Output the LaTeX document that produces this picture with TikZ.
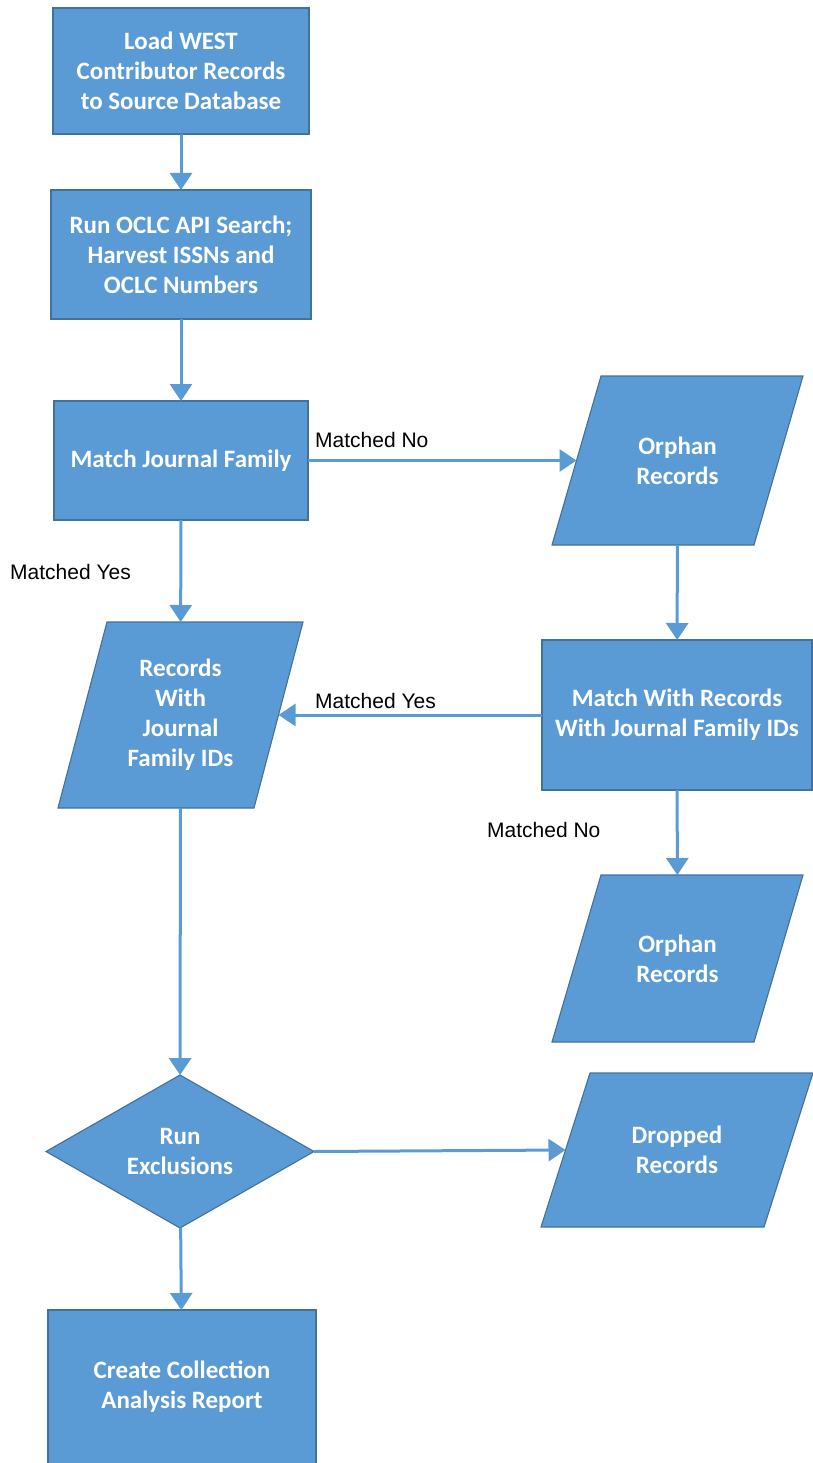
\documentclass[tikz,border=0pt]{standalone}
\usepackage{fontspec}
\setmainfont{Carlito}
\newfontfamily\labfont{Liberation Sans}
\usetikzlibrary{shapes.geometric,arrows.meta}
\definecolor{boxfill}{HTML}{5B9BD5}
\definecolor{boxline}{HTML}{41719C}
\definecolor{arrowc}{HTML}{5B9BD5}
\pgfdeclarelayer{bg}
\pgfsetlayers{bg,main}
\tikzset{
  txt/.style={text=white, font=\fontsize{25}{30}\selectfont\bfseries, align=center, inner sep=2pt, outer sep=0pt},
  shapeline/.style={fill=boxfill, draw=boxline, line width=1.1pt},
  procbox/.style={txt, shapeline, rectangle},
  iobox/.style={txt, rectangle},
  decbox/.style={txt, shapeline, diamond, aspect=1.75, inner sep=0pt},
  flow/.style={draw=arrowc, line width=3pt, -{Triangle[width=22pt,length=17pt]}},
  lab/.style={font=\labfont\fontsize{21}{24}\selectfont, anchor=west, inner sep=0pt, text=black}
}
\newcommand{\parashape}[2]{%
  \begin{pgfonlayer}{bg}
  \draw[shapeline] ([xshift=#2/2]#1.north west) -- ([xshift=#2/2]#1.north east)
    -- ([xshift=-#2/2]#1.south east) -- ([xshift=-#2/2]#1.south west) -- cycle;
  \end{pgfonlayer}}
\begin{document}
\begin{tikzpicture}[x=1pt,y=-1pt]
\useasboundingbox (0,0) rectangle (813,1463);
\clip (0,0) rectangle (813,1463);
\node[procbox, minimum width=256pt, minimum height=126pt] (b1) at (181,71) {Load WEST\\Contributor Records\\to Source Database};
\node[procbox, minimum width=260pt, minimum height=129pt] (b2) at (181,254.5) {Run OCLC API Search;\\Harvest ISSNs and\\OCLC Numbers};
\node[procbox, minimum width=254pt, minimum height=119pt] (b3) at (181,460.5) {Match Journal Family};
\node[iobox, minimum width=202pt, minimum height=169pt] (o1) at (677.5,460.5) {Orphan\\Records};
\node[iobox, minimum width=196pt, minimum height=186pt] (r) at (180.5,715) {Records\\With\\Journal\\Family IDs};
\node[procbox, minimum width=270pt, minimum height=150pt] (m) at (677,715) {Match With Records\\With Journal Family IDs};
\node[iobox, minimum width=202pt, minimum height=167pt] (o2) at (677.5,958.5) {Orphan\\Records};
\node[decbox, minimum width=268pt, minimum height=153pt] (d) at (180,1151.5) {Run\\Exclusions};
\node[iobox, minimum width=223pt, minimum height=154pt] (dr) at (677,1150) {Dropped\\Records};
\node[procbox, minimum width=268pt, minimum height=154pt] (c) at (182,1387) {Create Collection\\Analysis Report};

\parashape{o1}{49pt}
\parashape{r}{49pt}
\parashape{o2}{49pt}
\parashape{dr}{49pt}

\draw[flow] (b1) -- (b2);
\draw[flow] (b2) -- (b3);
\draw[flow] (b3.east) -- (o1.west);
\draw[flow] (b3) -- (r);
\draw[flow] (o1) -- (m);
\draw[flow] (m.west) -- (r.east);
\draw[flow] (m) -- (o2);
\draw[flow] (r) -- (d);
\draw[flow] (d.east) -- (dr.west);
\draw[flow] (d) -- (c);

\node[lab] (l1) at (315,440) {Matched No};
\node[lab] (l2) at (10,572) {Matched Yes};
\node[lab] (l3) at (315,701) {Matched Yes};
\node[lab] (l4) at (487,830) {Matched No};
\end{tikzpicture}
\end{document}
